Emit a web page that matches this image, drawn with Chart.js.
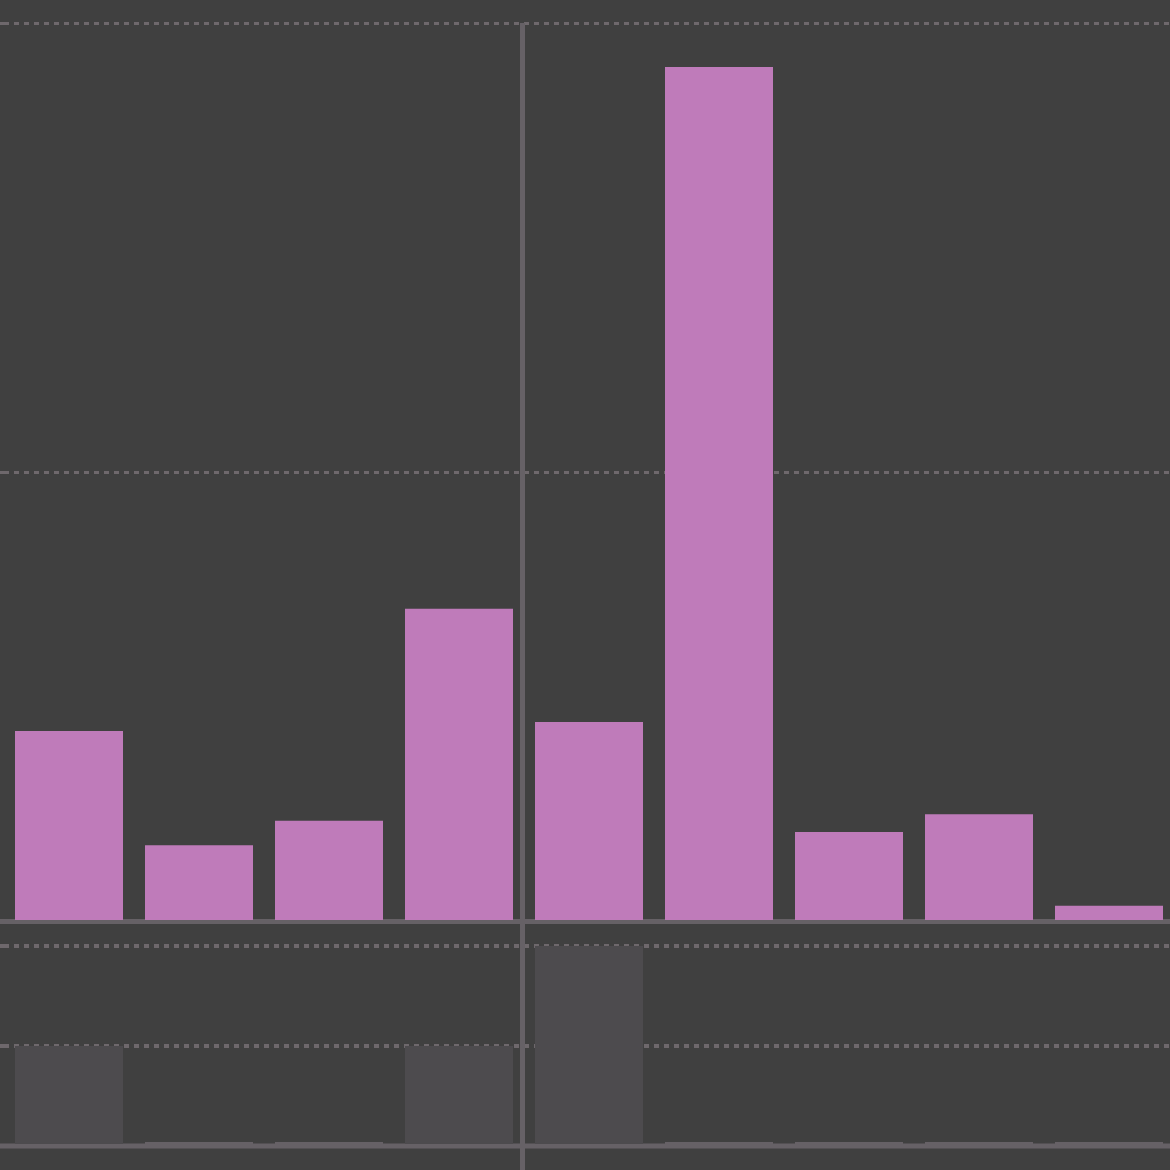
<!DOCTYPE html>
<html>
<head>
<meta charset="utf-8">
<script src="https://cdn.jsdelivr.net/npm/chart.js@4"></script>
<style>
  html, body { margin: 0; padding: 0; background: #404040; overflow: hidden; }
  #wrap { width: 1174px; }
  .box { position: relative; width: 1174px; }
</style>
</head>
<body>
<div id="wrap">
  <div class="box" style="height:930px"><canvas id="topChart"></canvas></div>
  <div class="box" style="height:240px"><canvas id="bottomChart"></canvas></div>
</div>
<script>
// data
const categories = ['1', '2', '3', '4', '5', '6', '7', '8', '9'];
const topValues = [0.424, 0.170, 0.224, 0.696, 0.444, 1.902, 0.199, 0.239, 0.035];
const bottomValues = [1, 0.04, 0.04, 1, 2, 0.04, 0.04, 0.04, 0.04];
const yTicks = [0, 1, 2];

const purple = '#bf7bba';
const greyBar = '#4d4b4e';
const lineColor = '#666166';
const gridColor = '#6e686c';

// baseline across the full width + vertical marker between 4th and 5th category
const markerLine = {
  id: 'markerLine',
  beforeDatasetsDraw(chart) {
    const y = chart.scales.y.getPixelForValue(0);
    const c = chart.ctx;
    c.save();
    c.strokeStyle = lineColor;
    c.lineWidth = 5;
    c.beginPath();
    c.moveTo(0, y);
    c.lineTo(chart.width, y);
    c.stroke();
    c.restore();
  },
  afterDatasetsDraw(chart, args, opts) {
    const x = chart.scales.x.getPixelForValue(3.5) - 1.5;
    const c = chart.ctx;
    c.save();
    c.strokeStyle = lineColor;
    c.lineWidth = 5;
    c.beginPath();
    c.moveTo(x, opts.fromTop ? chart.chartArea.top : 0);
    c.lineTo(x, chart.height);
    c.stroke();
    c.restore();
  }
};

function makeChart(id, values, color, gridWidth, pad) {
  return new Chart(document.getElementById(id), {
    type: 'bar',
    data: {
      labels: categories,
      datasets: [{
        data: values,
        backgroundColor: color,
        categoryPercentage: 1,
        barPercentage: 108 / 130
      }]
    },
    options: {
      responsive: true,
      maintainAspectRatio: false,
      animation: false,
      layout: { padding: pad },
      plugins: {
        legend: { display: false },
        tooltip: { enabled: false },
        markerLine: { fromTop: id === 'topChart' }
      },
      scales: {
        x: {
          grid: { display: false, drawTicks: false },
          ticks: { display: false },
          border: { display: false }
        },
        y: {
          min: 0,
          max: 2,
          afterBuildTicks: s => { s.ticks = yTicks.map(v => ({ value: v })); },
          ticks: { display: false, padding: 0 },
          border: { display: false, dash: [5, 5] },
          grid: {
            drawTicks: true,
            tickLength: 4,
            tickBorderDash: [5, 5],
            lineWidth: gridWidth,
            color: c => c.tick && c.tick.value === 0 ? 'rgba(0,0,0,0)' : gridColor
          }
        }
      }
    },
    plugins: [markerLine]
  });
}

makeChart('topChart', topValues, purple, 3, { top: 23, bottom: 8.5 });
makeChart('bottomChart', bottomValues,
  c => c.raw < 0.1 ? lineColor : greyBar, 4, { top: 16, bottom: 24 });
</script>
</body>
</html>
